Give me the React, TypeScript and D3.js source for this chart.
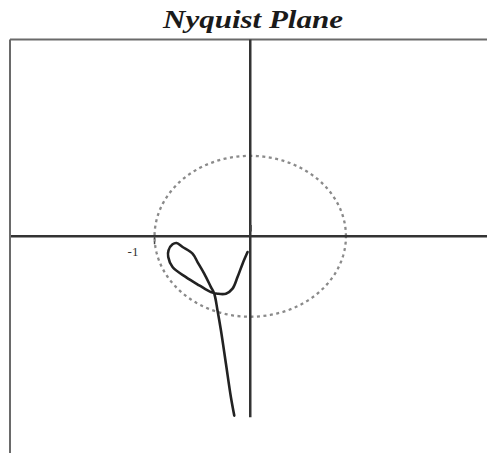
import React from "react";
import * as d3 from "d3";

// Nyquist locus of the open-loop response, low frequency first (real, imaginary)
const locusRe = [-0.167, -0.202, -0.254, -0.306, -0.342, -0.376, -0.411, -0.481, -0.551, -0.603, -0.707, -0.770, -0.812, -0.854, -0.857, -0.812, -0.672, -0.533, -0.411, -0.342, -0.254, -0.185, -0.133, -0.080, -0.028];
const locusIm = [-2.229, -2.001, -1.585, -1.171, -0.922, -0.714, -0.631, -0.464, -0.320, -0.215, -0.133, -0.083, -0.100, -0.174, -0.258, -0.382, -0.507, -0.610, -0.694, -0.714, -0.714, -0.651, -0.507, -0.340, -0.196];

const xDomain = [-2.5, 2.5];
const yDomain = [2.44, -2.7];
const criticalPoint = -1;
const criticalLabel = "-1";
const title = "Nyquist Plane";

const W = 487;
const H = 453;

export default function App() {
  const x = d3.scaleLinear().domain(xDomain).range([11, 489.5]);
  const y = d3.scaleLinear().domain(yDomain).range([40, 453.5]);

  const pts: [number, number][] = locusRe.map((r, i) => [r, locusIm[i]]);
  const line = d3
    .line<[number, number]>()
    .x((d) => x(d[0]))
    .y((d) => y(d[1]))
    .curve(d3.curveCatmullRom.alpha(0.5));

  const circle = d3.range(0, 361, 2).map((a) => [Math.cos((a * Math.PI) / 180), Math.sin((a * Math.PI) / 180)] as [number, number]);
  const circlePath = d3
    .line<[number, number]>()
    .x((d) => x(d[0]))
    .y((d) => y(d[1]))(circle);

  return (
    <svg
      width={W}
      height={H}
      style={{ position: "absolute", left: 0, top: 0, background: "#fff" }}
    >
      <text
        x={253}
        y={28}
        textAnchor="middle"
        fontFamily="'Liberation Serif', 'DejaVu Serif', serif"
        fontStyle="italic"
        fontWeight="bold"
        fontSize={25}
        fill="#1a1a1a"
        textLength={180}
        lengthAdjust="spacingAndGlyphs"
      >
        {title}
      </text>

      {/* plot frame: top and left edges */}
      <line x1={10} x2={W} y1={39.5} y2={39.5} stroke="#6a6a6a" strokeWidth={2} />
      <line x1={10} x2={10} y1={39.5} y2={H} stroke="#6a6a6a" strokeWidth={2} />

      {/* unit circle */}
      <path d={circlePath || ""} fill="none" stroke="#8a8a8a" strokeWidth={2.3} strokeDasharray="3,3.5" />

      {/* real and imaginary axes */}
      <line x1={x(xDomain[0])} x2={W} y1={y(0)} y2={y(0)} stroke="#333" strokeWidth={2.5} />
      <line x1={x(0)} x2={x(0)} y1={39.5} y2={y(-2.25)} stroke="#333" strokeWidth={2.5} />
      <line x1={x(0) + 1} x2={x(0) + 1} y1={y(0.14)} y2={y(0.06)} stroke="#555" strokeWidth={1.5} />

      {/* critical point marker */}
      <line
        x1={x(criticalPoint)}
        x2={x(criticalPoint)}
        y1={y(0)}
        y2={y(-0.12)}
        stroke="#444"
        strokeWidth={1.5}
        strokeDasharray="3,2"
      />
      <text
        x={x(criticalPoint) - 27}
        y={y(-0.25)}
        fontFamily="'Liberation Serif', serif"
        fontSize={13}
        fill="#333"
      >
        {criticalLabel}
      </text>

      {/* locus */}
      <path
        d={line(pts) || ""}
        fill="none"
        stroke="#222"
        strokeWidth={2.6}
        strokeLinecap="round"
        strokeLinejoin="round"
      />
    </svg>
  );
}
